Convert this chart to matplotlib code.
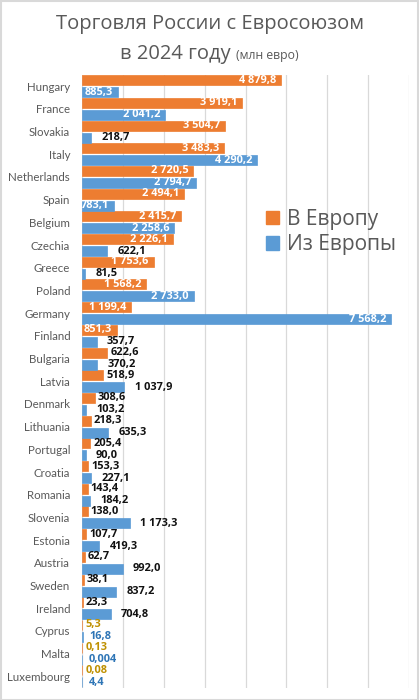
import matplotlib
matplotlib.use("Agg")
import matplotlib.pyplot as plt
from matplotlib.patches import Patch, Rectangle
import numpy as np

countries = ["Hungary", "France", "Slovakia", "Italy", "Netherlands", "Spain",
             "Belgium", "Czechia", "Greece", "Poland", "Germany", "Finland",
             "Bulgaria", "Latvia", "Denmark", "Lithuania", "Portugal", "Croatia",
             "Romania", "Slovenia", "Estonia", "Austria", "Sweden", "Ireland",
             "Cyprus", "Malta", "Luxembourg"]
to_europe = [4879.8, 3919.1, 3504.7, 3483.3, 2720.5, 2494.1, 2415.7, 2226.1,
             1753.6, 1568.2, 1199.4, 851.3, 622.6, 518.9, 308.6, 218.3, 205.4,
             153.3, 143.4, 138.0, 107.7, 62.7, 38.1, 23.3, 5.3, 0.13, 0.08]
from_europe = [885.3, 2041.2, 218.7, 4290.2, 2794.7, 783.1, 2258.6, 622.1,
               81.5, 2733.0, 7568.2, 357.7, 370.2, 1037.9, 103.2, 635.3, 90.0,
               227.1, 184.2, 1173.3, 419.3, 992.0, 837.2, 704.8, 16.8, 0.004, 4.4]
series_names = ["В Европу", "Из Европы"]

ORANGE = "#ED7D31"
BLUE = "#5B9BD5"
GREY = "#595959"
GOLD = "#BF9000"
DBLUE = "#2E75B6"
FONT = ["Open Sans", "DejaVu Sans"]
LATFONT = ["Lato", "Open Sans", "DejaVu Sans"]
NUMFONT = ["Open Sans", "DejaVu Sans"]


def fmt(v):
    if v < 1:
        return f"{v:g}".replace(".", ",")
    s = f"{v:,.1f}"
    return s.replace(",", " ").replace(".", ",")


W, H = 419, 700
fig = plt.figure(figsize=(W / 100, H / 100), dpi=100)
fig.patch.set_facecolor("white")

ax_left, ax_right = 82 / W, 409 / W
ax_top, ax_bottom = 74.8, 687.7
ax = fig.add_axes([ax_left, 1 - ax_bottom / H, ax_right - ax_left, (ax_bottom - ax_top) / H])

n = len(countries)
y = np.arange(n)
bh = 0.44
off = 0.265
ax.barh(y - off, to_europe, height=bh, color=ORANGE, edgecolor=ORANGE, linewidth=0.5, zorder=3)
ax.barh(y + off, from_europe, height=bh, color=BLUE, edgecolor=BLUE, linewidth=0.5, zorder=3)

ax.set_xlim(0, 8000)
ax.set_ylim(n - 0.5, -0.5)
ax.set_xticks(np.arange(0, 8001, 1000))
ax.xaxis.grid(True, color="#d9d9d9", linewidth=0.9, zorder=0)
ax.tick_params(axis="x", length=0, labelbottom=False)
ax.tick_params(axis="y", length=0, pad=8.5)
ax.set_yticks(y)
ax.set_yticklabels(countries, fontsize=8.3, color=GREY, family=LATFONT)
for sp in ax.spines.values():
    sp.set_visible(False)

lab_fs = 7.9
for series, sign, small_col in ((to_europe, -1, GOLD), (from_europe, 1, DBLUE)):
    for i, v in enumerate(series):
        yy = i + sign * off
        txt = fmt(v)
        if v >= 750 and i <= 11:
            ax.annotate(txt, (v, yy), xytext=(-3.5, 0), textcoords="offset points",
                        ha="right", va="center", color="white", fontsize=lab_fs,
                        fontweight="bold", family=NUMFONT, zorder=5)
        else:
            dx = 2.0 if sign < 0 else 7.5
            col = small_col if i >= 24 else "#111111"
            if i >= 24:
                dx = 2.5 if sign < 0 else 5.0
            ax.annotate(txt, (v, yy), xytext=(dx, 0), textcoords="offset points",
                        ha="left", va="center", color=col, fontsize=lab_fs,
                        fontweight="bold", family=NUMFONT, zorder=5)

handles = [Patch(facecolor=ORANGE, edgecolor=ORANGE), Patch(facecolor=BLUE, edgecolor=BLUE)]
leg = fig.legend(handles, series_names, loc="upper left",
                 bbox_to_anchor=(266 / W, 1 - 209 / H), frameon=False,
                 prop={"family": FONT, "size": 15}, labelcolor=GREY,
                 handlelength=0.62, handleheight=0.62, handletextpad=0.4,
                 labelspacing=0.2, borderaxespad=0, borderpad=0)

fig.text(0.5, 1 - 29 / H, "Торговля России с Евросоюзом", ha="center", va="baseline",
         fontsize=14.5, color=GREY, family=FONT)
fig.text(231 / W, 1 - 59.5 / H, "в 2024 году", ha="right", va="baseline",
         fontsize=14.5, color=GREY, family=FONT)
fig.text(236 / W, 1 - 59.5 / H, "(млн евро)", ha="left", va="baseline",
         fontsize=8.8, color=GREY, family=FONT)

fig.add_artist(Rectangle((0.5 / W, 0.5 / H), 1 - 1.5 / W, 1 - 1.5 / H,
                         transform=fig.transFigure, fill=False,
                         edgecolor="#d9d9d9", linewidth=1.5))

fig.savefig("out.png", dpi=100)
